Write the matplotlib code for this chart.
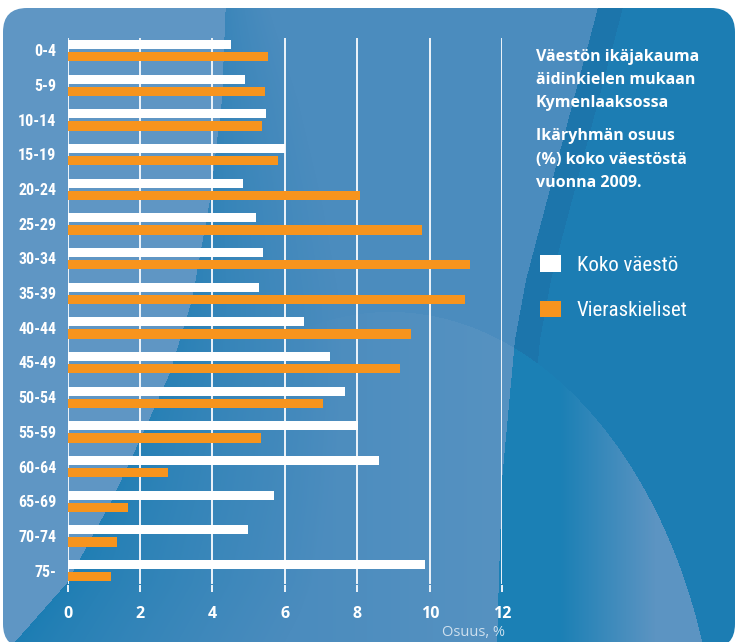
import matplotlib
matplotlib.use("Agg")
import matplotlib.pyplot as plt
from matplotlib import font_manager
from matplotlib.patches import FancyBboxPatch, Patch
import numpy as np

# data
ikaryhmat = ["0-4", "5-9", "10-14", "15-19", "20-24", "25-29", "30-34", "35-39",
             "40-44", "45-49", "50-54", "55-59", "60-64", "65-69", "70-74", "75-"]
koko_vaesto = [4.51, 4.90, 5.48, 6.01, 4.85, 5.21, 5.40, 5.29,
               6.53, 7.25, 7.67, 8.02, 8.60, 5.70, 4.99, 9.88]
vieraskieliset = [5.53, 5.46, 5.37, 5.81, 8.08, 9.79, 11.12, 10.98,
                  9.49, 9.19, 7.06, 5.35, 2.78, 1.67, 1.37, 1.20]
x_ticks = [0, 2, 4, 6, 8, 10, 12]

otsikko1 = ["Väestön ikäjakauma", "äidinkielen mukaan", "Kymenlaaksossa"]
otsikko2 = ["Ikäryhmän osuus", "(%) koko väestöstä", "vuonna 2009."]

VALKOINEN = "#ffffff"
ORANSSI = "#f7941d"

installed = {f.name for f in font_manager.fontManager.ttflist}


def pick_font(names):
    for n in names:
        if n in installed:
            return n
    return "DejaVu Sans"


def rgb(h):
    h = h.lstrip("#")
    return np.array([int(h[i:i + 2], 16) for i in (0, 2, 4)]) / 255.0


kapea = pick_font(["Liberation Sans Narrow", "Roboto Condensed", "DejaVu Sans"])
leipa = pick_font(["Open Sans", "Roboto", "Lato", "DejaVu Sans"])

fig = plt.figure(figsize=(7.37, 6.42), dpi=100, facecolor="white")

# --- decorative background, built as a pixel image ---
bg = fig.add_axes([0, 0, 1, 1], zorder=0)
bg.set_xlim(0, 737)
bg.set_ylim(642, 0)
bg.axis("off")

X, Y = np.meshgrid(np.arange(737) + 0.5, np.arange(642) + 0.5)
L = np.interp(Y, [0, 100, 200, 300, 373, 440, 500, 583, 642],
              [226, 222, 210, 192, 170, 140, 112, 67, 15])
R = np.interp(Y, [0, 280, 340, 480, 642], [600, 526, 515, 502, 497])
W = 40 + 230 * (Y / 642)
in_ell = ((X - 390) / 330) ** 2 + ((Y - 800) / 488) ** 2 <= 1

vaalea = rgb("#5f96c4")
# arc is barely visible inside the plot area, fading in towards the right
lift = np.clip((X - 300) / 200, 0, 1)[..., None] * in_ell[..., None]
keski = rgb("#4b8cbe") * (1 - lift) + rgb("#5692c1") * lift
t = (Y / 642)[..., None]
tumma_v = rgb("#3b86ba") * (1 - t) + rgb("#1b7db3") * t
s = np.clip((X - L) / W, 0, 1)[..., None]
s = s ** 0.8
valialue = tumma_v * (1 - s) + keski * s

oikea = np.where((X - R < 25)[..., None], rgb("#1c75ab"), rgb("#1c7db3"))
g = np.clip((X - 560) / 95, 0, 1)[..., None]
oikea_ell = rgb("#1b80b5") * (1 - g) + rgb("#5c94c2") * g
oikea = np.where(in_ell[..., None], oikea_ell, oikea)

kuva = np.where((X < L)[..., None], vaalea,
                np.where((X < R)[..., None], valialue, oikea))

paneeli = FancyBboxPatch((3, 8), 732, 640, boxstyle="round,pad=0,rounding_size=24",
                         facecolor="none", edgecolor="none")
bg.add_patch(paneeli)
im = bg.imshow(kuva, extent=(0, 737, 642, 0), aspect="auto", interpolation="bilinear")
im.set_clip_path(paneeli)

# --- main chart ---
ax = fig.add_axes([67.5 / 737, 1 - 592 / 642, 434.8 / 737, 554 / 642], zorder=2)
ax.set_facecolor("none")
y = np.arange(len(ikaryhmat))
ax.barh(y - 0.176, koko_vaesto, height=0.26, color=VALKOINEN, zorder=3,
        label="Koko väestö")
ax.barh(y + 0.176, vieraskieliset, height=0.27, color=ORANSSI, zorder=3,
        label="Vieraskieliset")
for v in x_ticks:
    ax.axvline(v, ymin=0.017, ymax=1, color="#eef4fa", lw=1.4, zorder=1)

ax.set_xlim(0, 12)
ax.set_ylim(15.62, -0.36)
ax.set_xticks(x_ticks)
ax.set_yticks(y)
ax.set_yticklabels(ikaryhmat, fontfamily=kapea, fontweight="bold", fontsize=11.5,
                   color="white")
ax.set_xticklabels([str(t) for t in x_ticks], fontfamily=leipa, fontweight="bold",
                   fontsize=11.5, color="white")
ax.tick_params(axis="y", length=0, pad=8)
ax.tick_params(axis="x", direction="in", length=5, width=1.4, color="#eef4fa", pad=10)
for sp in ax.spines.values():
    sp.set_visible(False)

fig.text(505 / 737, 1 - 633 / 642, "Osuus, %", ha="right", va="center",
         fontfamily=leipa, fontsize=10.5, color="#cfe0ee")

# title text on the right
for i, rivi in enumerate(otsikko1):
    fig.text(536 / 737, 1 - (61 + 23 * i) / 642, rivi, ha="left", va="baseline",
             fontfamily=leipa, fontweight="bold", fontsize=11.5, color="white")
for i, rivi in enumerate(otsikko2):
    fig.text(536 / 737, 1 - (140 + 23.5 * i) / 642, rivi, ha="left", va="baseline",
             fontfamily=leipa, fontweight="bold", fontsize=11.5, color="white")

kahvat = [Patch(facecolor=VALKOINEN, edgecolor="none"),
          Patch(facecolor=ORANSSI, edgecolor="none")]
leg = fig.legend(kahvat, ["Koko väestö", "Vieraskieliset"], loc="upper left",
                 bbox_to_anchor=(536 / 737, 1 - 251 / 642), frameon=False,
                 prop={"family": kapea, "size": 15}, labelcolor="white",
                 handlelength=1.0, handleheight=0.85, handletextpad=0.75,
                 labelspacing=1.25, borderpad=0.2, borderaxespad=0)

fig.savefig("out.png", dpi=100, facecolor="white")
